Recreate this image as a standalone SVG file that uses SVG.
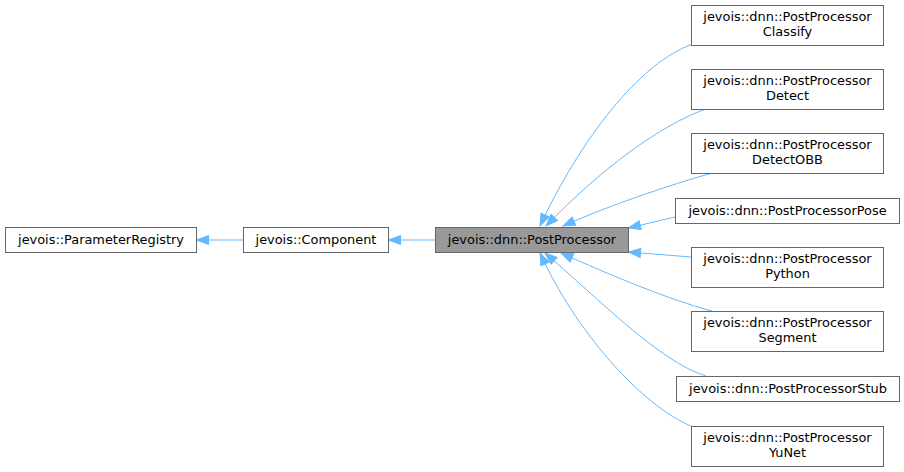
<svg xmlns="http://www.w3.org/2000/svg" width="904" height="472" viewBox="0 0 904 472">
<style>
.n rect{fill:#ffffff;stroke:#666666;stroke-width:1}
.n.hl rect{fill:#999999}
.n text{font-family:"DejaVu Sans",sans-serif;font-size:12.9px;fill:#000000;text-anchor:middle}
.e path{fill:none;stroke:#63b8ff;stroke-width:1;marker-end:url(#ah)}
</style>
<defs>
<marker id="ah" markerUnits="userSpaceOnUse" markerWidth="14" markerHeight="12" viewBox="0 0 14 12" refX="13" refY="6" orient="auto">
<path d="M1,1.5 L13,6 L1,10.5 Z" fill="#63b8ff" stroke="#63b8ff" stroke-width="1"/>
</marker>
</defs>
<rect width="904" height="472" fill="#ffffff"/>
<g id="edges" class="e">
<path d="M243,240 L196.5,240"/>
<path d="M435,240 L388.5,240"/>
<path d="M693,44 C640,62 580,140 540,226"/>
<path d="M706,109 C660,125 600,170 546,226"/>
<path d="M712,173 C670,185 610,205 563,226"/>
<path d="M675,217 L628.5,228"/>
<path d="M691,257 L628.5,252"/>
<path d="M712,311 C670,300 610,275 561,253"/>
<path d="M706,376 C660,362 600,300 545,253"/>
<path d="M693,427 C640,405 575,330 540,253"/>
</g>
<g id="n_ParameterRegistry" class="n"><rect x="5.5" y="227.5" width="191" height="25"/><text x="101" y="244">jevois::ParameterRegistry</text></g>
<g id="n_Component" class="n"><rect x="243.5" y="227.5" width="145" height="25"/><text x="316" y="244">jevois::Component</text></g>
<g id="n_PostProcessor" class="n hl"><rect x="435.5" y="227.5" width="193" height="25"/><text x="532" y="244">jevois::dnn::PostProcessor</text></g>
<g id="n_Classify" class="n"><rect x="691.5" y="5.5" width="192" height="40"/><text x="787.5" y="21">jevois::dnn::PostProcessor</text><text x="787.5" y="36">Classify</text></g>
<g id="n_Detect" class="n"><rect x="691.5" y="69.5" width="192" height="40"/><text x="787.5" y="85">jevois::dnn::PostProcessor</text><text x="787.5" y="100">Detect</text></g>
<g id="n_DetectOBB" class="n"><rect x="691.5" y="133.5" width="192" height="40"/><text x="787.5" y="149">jevois::dnn::PostProcessor</text><text x="787.5" y="164">DetectOBB</text></g>
<g id="n_Pose" class="n"><rect x="675.5" y="198.5" width="224" height="25"/><text x="787.5" y="215">jevois::dnn::PostProcessorPose</text></g>
<g id="n_Python" class="n"><rect x="691.5" y="247.5" width="192" height="40"/><text x="787.5" y="263">jevois::dnn::PostProcessor</text><text x="787.5" y="278">Python</text></g>
<g id="n_Segment" class="n"><rect x="691.5" y="311.5" width="192" height="40"/><text x="787.5" y="327">jevois::dnn::PostProcessor</text><text x="787.5" y="342">Segment</text></g>
<g id="n_Stub" class="n"><rect x="676.5" y="376.5" width="223" height="25"/><text x="788" y="393">jevois::dnn::PostProcessorStub</text></g>
<g id="n_YuNet" class="n"><rect x="691.5" y="426.5" width="192" height="40"/><text x="787.5" y="442">jevois::dnn::PostProcessor</text><text x="787.5" y="457">YuNet</text></g>
</svg>
